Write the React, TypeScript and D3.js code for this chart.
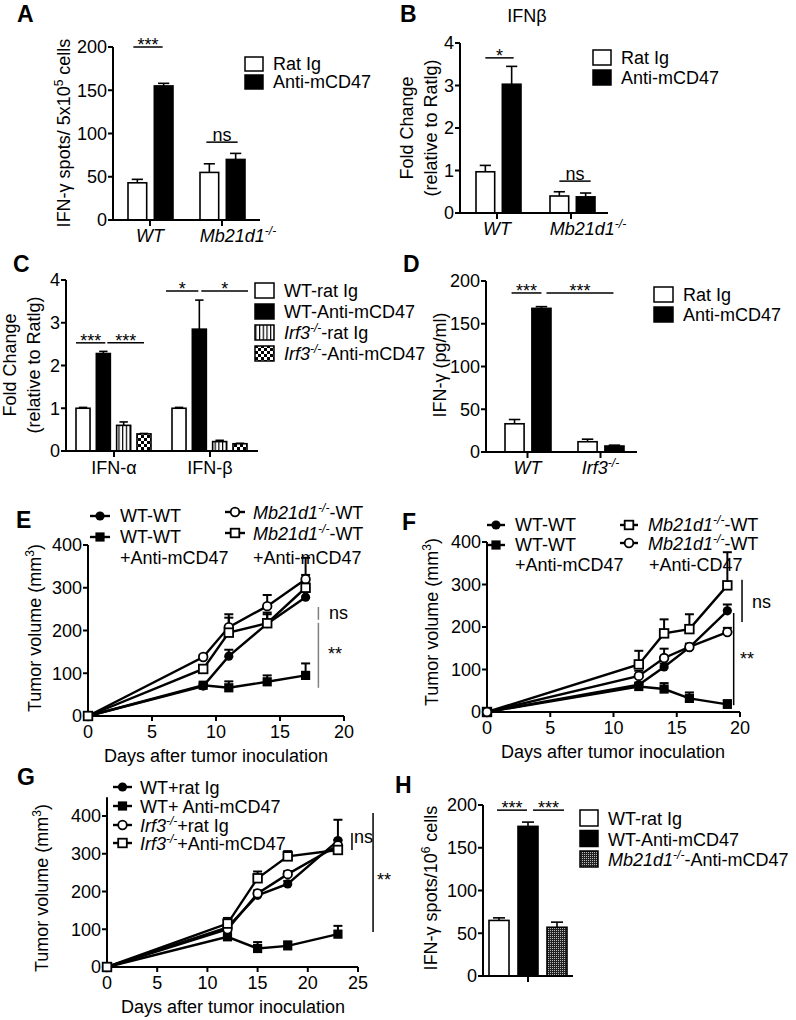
import React from "react";
import * as d3 from "d3";

const FONT = "'Liberation Sans', Arial, Helvetica, sans-serif";
const FS = 18;

// ===================== DATA =====================
// Panel A: IFN-γ spots / 5x10^5 cells
const aCategories = ["WT", "Mb21d1-/-"];
const aSeries = ["Rat Ig", "Anti-mCD47"];
const aRatIg = [43, 55];
const aRatIgSem = [4, 10];
const aAnti = [155, 70];
const aAntiSem = [3, 7];
const aTicks = [0, 50, 100, 150, 200];

// Panel B: IFNβ fold change
const bCategories = ["WT", "Mb21d1-/-"];
const bSeries = ["Rat Ig", "Anti-mCD47"];
const bRatIg = [0.97, 0.4];
const bRatIgSem = [0.15, 0.1];
const bAnti = [3.03, 0.38];
const bAntiSem = [0.42, 0.09];
const bTicks = [0, 1, 2, 3, 4];

// Panel C: fold change IFN-α / IFN-β
const cCategories = ["IFN-α", "IFN-β"];
const cSeries = ["WT-rat Ig", "WT-Anti-mCD47", "Irf3-/--rat Ig", "Irf3-/--Anti-mCD47"];
const cWtRat = [1.0, 1.0];
const cWtRatSem = [0.02, 0.02];
const cWtAnti = [2.28, 2.85];
const cWtAntiSem = [0.05, 0.68];
const cIrfRat = [0.6, 0.22];
const cIrfRatSem = [0.08, 0.03];
const cIrfAnti = [0.4, 0.17];
const cIrfAntiSem = [0.01, 0.01];
const cTicks = [0, 1, 2, 3, 4];

// Panel D: IFN-γ pg/ml
const dCategories = ["WT", "Irf3-/-"];
const dSeries = ["Rat Ig", "Anti-mCD47"];
const dRatIg = [33, 12];
const dRatIgSem = [5, 3];
const dAnti = [168, 7];
const dAntiSem = [2, 1];
const dTicks = [0, 50, 100, 150, 200];

// Panel H: IFN-γ spots / 10^6 cells
const hCategories = [""];
const hSeries = ["WT-rat Ig", "WT-Anti-mCD47", "Mb21d1-/--Anti-mCD47"];
const hValues = [65, 175, 57];
const hSem = [3, 5, 6];
const hTicks = [0, 50, 100, 150, 200];

// Panel E: tumor volume
const eDays = [0, 9, 11, 14, 17];
const eWtWt = [0, 70, 140, 216, 278];
const eWtWtSem = [0, 4, 15, 22, 12];
const eWtWtAnti = [0, 72, 66, 80, 95];
const eWtWtAntiSem = [0, 4, 15, 15, 28];
const eMbWt = [0, 138, 208, 257, 320];
const eMbWtSem = [0, 5, 30, 26, 50];
const eMbWtAnti = [0, 110, 195, 217, 300];
const eMbWtAntiSem = [0, 5, 35, 25, 30];
const eXTicks = [0, 5, 10, 15, 20];
const eYTicks = [0, 100, 200, 300, 400];

// Panel F
const fDays = [0, 12, 14, 16, 19];
const fWtWt = [0, 64, 106, 152, 238];
const fWtWtSem = [0, 5, 8, 6, 15];
const fWtWtAnti = [0, 60, 54, 32, 18];
const fWtWtAntiSem = [0, 6, 14, 14, 10];
const fMbWt = [0, 112, 185, 195, 298];
const fMbWtSem = [0, 32, 33, 35, 78];
const fMbWtAnti = [0, 85, 127, 153, 188];
const fMbWtAntiSem = [0, 12, 22, 8, 10];
const fXTicks = [0, 5, 10, 15, 20];
const fYTicks = [0, 100, 200, 300, 400];

// Panel G
const gDays = [0, 12, 15, 18, 23];
const gWtRat = [0, 105, 190, 220, 335];
const gWtRatSem = [0, 10, 10, 8, 55];
const gWtAnti = [0, 80, 49, 56, 87];
const gWtAntiSem = [0, 5, 17, 12, 22];
const gIrfRat = [0, 100, 195, 246, 322];
const gIrfRatSem = [0, 8, 8, 8, 15];
const gIrfAnti = [0, 115, 235, 293, 310];
const gIrfAntiSem = [0, 15, 18, 14, 10];
const gXTicks = [0, 5, 10, 15, 20, 25];
const gYTicks = [0, 100, 200, 300, 400];

// ===================== HELPERS =====================
function Rich({ text, italicAll = false }: { text: string; italicAll?: boolean }) {
  const idx = text.indexOf("-/-");
  if (idx < 0) return <tspan fontStyle={italicAll ? "italic" : "normal"}>{text}</tspan>;
  const gene = text.slice(0, idx);
  const rest = text.slice(idx + 3);
  return (
    <>
      <tspan fontStyle="italic">{gene}</tspan>
      <tspan fontStyle="italic" fontSize={12} dy={-7}>-/-</tspan>
      {rest ? <tspan dy={7} fontStyle={italicAll ? "italic" : "normal"}>{rest}</tspan> : null}
    </>
  );
}

type Sig = { a: [number, number]; b: [number, number]; v: number; label: string; d1: number; d2: number };

type BarProps = {
  y: d3.ScaleLinear<number, number>;
  yTicks: number[];
  yTop: number;
  axisLeft: number;
  axisRight: number;
  groups: d3.ScaleBand<string>;
  inner: d3.ScaleBand<string>;
  categories: string[];
  series: string[];
  values: number[][];
  sems: number[][];
  fills: string[];
  labelBaseline: number;
  labelDx: number[];
  italicLabels: boolean;
  sigs: Sig[];
};

function BarPanel(p: BarProps) {
  const y0 = p.y(0);
  const bw = p.inner.bandwidth();
  const cx = (g: number, s: number) => p.groups(p.categories[g])! + p.inner(p.series[s])! + bw / 2;
  return (
    <g>
      {p.series.map((s, si) =>
        p.categories.map((c, gi) => {
          const v = p.values[si][gi];
          const x = p.groups(c)! + p.inner(s)!;
          const c0 = x + bw / 2;
          const sem = p.sems[si][gi];
          const top = p.y(v + sem);
          return (
            <g key={si + "-" + gi}>
              {sem > 0 ? (
                <>
                  <line x1={c0} x2={c0} y1={p.y(v)} y2={top} stroke="black" strokeWidth={1.6} />
                  <line x1={c0 - bw * 0.3} x2={c0 + bw * 0.3} y1={top} y2={top} stroke="black" strokeWidth={1.6} />
                </>
              ) : null}
              <rect x={x} y={p.y(v)} width={bw} height={y0 - p.y(v)} fill={p.fills[si]} stroke="black" strokeWidth={1.6} />
            </g>
          );
        })
      )}
      {/* y axis */}
      <line x1={p.axisLeft} x2={p.axisLeft} y1={y0 + 1} y2={p.y(p.yTop)} stroke="black" strokeWidth={2} />
      {p.yTicks.map((t) => (
        <g key={"yt" + t}>
          <line x1={p.axisLeft - 5} x2={p.axisLeft} y1={p.y(t)} y2={p.y(t)} stroke="black" strokeWidth={2} />
          <text x={p.axisLeft - 6} y={p.y(t)} dy="0.35em" textAnchor="end" fontSize={FS}>
            {t}
          </text>
        </g>
      ))}
      {/* x axis */}
      <line x1={p.axisLeft} x2={p.axisRight} y1={y0} y2={y0} stroke="black" strokeWidth={2} />
      {p.categories.map((c, gi) => {
        const gx = p.groups(c)! + p.groups.bandwidth() / 2;
        return (
          <g key={"xt" + gi}>
            <line x1={gx} x2={gx} y1={y0} y2={y0 + 6} stroke="black" strokeWidth={2} />
            {c ? (
              <text x={gx + p.labelDx[gi]} y={p.labelBaseline} textAnchor="middle" fontSize={FS}>
                <Rich text={c} italicAll={p.italicLabels} />
              </text>
            ) : null}
          </g>
        );
      })}
      {p.sigs.map((s, i) => {
        const x1 = cx(s.a[0], s.a[1]) + s.d1;
        const x2 = cx(s.b[0], s.b[1]) + s.d2;
        const yy = p.y(s.v);
        const ns = s.label === "ns";
        return (
          <g key={"sig" + i}>
            <line x1={x1} x2={x2} y1={yy} y2={yy} stroke="black" strokeWidth={1.5} />
            <text x={(x1 + x2) / 2} y={ns ? yy - 1 : yy + 4} textAnchor="middle" fontSize={FS}>
              {s.label}
            </text>
          </g>
        );
      })}
    </g>
  );
}

function BarLegend({ x, y, step, w, h, labels, fills }: { x: number; y: number; step: number; w: number; h: number; labels: string[]; fills: string[] }) {
  return (
    <g>
      {labels.map((l, i) => (
        <g key={i}>
          <rect x={x} y={y + i * step} width={w} height={h} fill={fills[i]} stroke="black" strokeWidth={1.5} />
          <text x={x + w + 10} y={y + i * step + h - 1} fontSize={FS}>
            <Rich text={l} />
          </text>
        </g>
      ))}
    </g>
  );
}

function Marker({ type, cx, cy }: { type: string; cx: number; cy: number }) {
  if (type === "fc") return <circle cx={cx} cy={cy} r={4.6} fill="black" />;
  if (type === "oc") return <circle cx={cx} cy={cy} r={4.3} fill="white" stroke="black" strokeWidth={1.8} />;
  if (type === "fs") return <rect x={cx - 4.6} y={cy - 4.6} width={9.2} height={9.2} fill="black" />;
  return <rect x={cx - 4.3} y={cy - 4.3} width={8.6} height={8.6} fill="white" stroke="black" strokeWidth={1.8} />;
}

type LineSeries = { days: number[]; vals: number[]; sems: number[]; marker: string };
type VSig = { xv: number; y1: number; y2: number; label: string; tx: number; ty: number; color: string };

function LinePanel({ x, y, xTicks, yTicks, yTop, series, sigs }: {
  x: d3.ScaleLinear<number, number>;
  y: d3.ScaleLinear<number, number>;
  xTicks: number[];
  yTicks: number[];
  yTop: number;
  series: LineSeries[];
  sigs: VSig[];
}) {
  const x0 = x(0);
  const y0 = y(0);
  const xMax = x.domain()[1];
  const line = d3
    .line<[number, number]>()
    .x((d) => x(d[0]))
    .y((d) => y(d[1]));
  return (
    <g>
      {/* axes */}
      <line x1={x0} x2={x0} y1={y0 + 1} y2={y(yTop)} stroke="black" strokeWidth={2} />
      {yTicks.map((t) => (
        <g key={"yt" + t}>
          <line x1={x0 - 5} x2={x0} y1={y(t)} y2={y(t)} stroke="black" strokeWidth={2} />
          <text x={x0 - 6} y={y(t)} dy="0.35em" textAnchor="end" fontSize={FS}>
            {t}
          </text>
        </g>
      ))}
      <line x1={x0 - 1} x2={x(xMax)} y1={y0} y2={y0} stroke="black" strokeWidth={2} />
      {xTicks.map((t) => (
        <g key={"xt" + t}>
          <line x1={x(t)} x2={x(t)} y1={y0} y2={y0 + 5} stroke="black" strokeWidth={2} />
          <text x={x(t)} y={y0 + 22} textAnchor="middle" fontSize={FS}>
            {t}
          </text>
        </g>
      ))}
      {series.map((s, i) => (
        <path key={"l" + i} d={line(s.days.map((d, j) => [d, s.vals[j]] as [number, number])) || ""} fill="none" stroke="black" strokeWidth={2.4} />
      ))}
      {series.map((s, i) =>
        s.days.map((d, j) =>
          s.sems[j] > 0 ? (
            <g key={"e" + i + "-" + j}>
              <line x1={x(d)} x2={x(d)} y1={y(s.vals[j])} y2={y(s.vals[j] + s.sems[j])} stroke="black" strokeWidth={2} />
              <line x1={x(d) - 4.5} x2={x(d) + 4.5} y1={y(s.vals[j] + s.sems[j])} y2={y(s.vals[j] + s.sems[j])} stroke="black" strokeWidth={2} />
            </g>
          ) : null
        )
      )}
      {series.map((s, i) => s.days.map((d, j) => <Marker key={"m" + i + "-" + j} type={s.marker} cx={x(d)} cy={y(s.vals[j])} />))}
      {sigs.map((s, i) => (
        <g key={"vs" + i}>
          <line x1={x(s.xv)} x2={x(s.xv)} y1={y(s.y1)} y2={y(s.y2)} stroke={s.color} strokeWidth={1.5} />
          <text x={s.tx} y={s.ty} fontSize={FS}>
            {s.label}
          </text>
        </g>
      ))}
    </g>
  );
}

type LegItem = { m: string; x1: number; x2: number; y: number; lines: { t: string; x: number; y: number }[] };
function LineLegend({ items }: { items: LegItem[] }) {
  return (
    <g>
      {items.map((it, i) => (
        <g key={i}>
          <line x1={it.x1} x2={it.x2} y1={it.y} y2={it.y} stroke="black" strokeWidth={2.4} />
          <Marker type={it.m} cx={(it.x1 + it.x2) / 2} cy={it.y} />
          {it.lines.map((l, j) => (
            <text key={j} x={l.x} y={l.y} fontSize={FS}>
              <Rich text={l.t} />
            </text>
          ))}
        </g>
      ))}
    </g>
  );
}

function PanelLetter({ x, y, t }: { x: number; y: number; t: string }) {
  return (
    <text x={x} y={y} fontSize={23} fontWeight="bold">
      {t}
    </text>
  );
}

function VLabel({ x, y, children }: { x: number; y: number; children: React.ReactNode }) {
  return (
    <text transform={`translate(${x},${y}) rotate(-90)`} textAnchor="middle" fontSize={FS}>
      {children}
    </text>
  );
}

// ===================== APP =====================
export default function App() {
  const twoFills = ["white", "black"];

  // A
  const aY = d3.scaleLinear().domain([0, 200]).range([220, 47]);
  const aG = d3.scaleBand<string>().domain(aCategories).range([114, 258]);
  const aI = d3.scaleBand<string>().domain(aSeries).range([14, 59]).paddingInner(0.29);

  // B
  const bY = d3.scaleLinear().domain([0, 4]).range([213, 43]);
  const bG = d3.scaleBand<string>().domain(bCategories).range([460, 608]);
  const bI = d3.scaleBand<string>().domain(bSeries).range([16, 61]).paddingInner(0.29);

  // C
  const cY = d3.scaleLinear().domain([0, 4]).range([451, 280]);
  const cG = d3.scaleBand<string>().domain(cCategories).range([66, 258]);
  const cI = d3.scaleBand<string>().domain(cSeries).range([10, 85]).paddingInner(0.31);
  const cFills = ["white", "black", "url(#stripes)", "url(#checker)"];

  // D
  const dY = d3.scaleLinear().domain([0, 200]).range([452, 281]);
  const dG = d3.scaleBand<string>().domain(dCategories).range([491, 637]);
  const dI = d3.scaleBand<string>().domain(dSeries).range([14, 60]).paddingInner(0.29);

  // H
  const hY = d3.scaleLinear().domain([0, 200]).range([976, 805]);
  const hG = d3.scaleBand<string>().domain(hCategories).range([483, 573]);
  const hI = d3.scaleBand<string>().domain(hSeries).range([6, 84]).paddingInner(0.31);
  const hFills = ["white", "black", "url(#dots)"];

  // E, F, G
  const eX = d3.scaleLinear().domain([0, 20]).range([88, 344]);
  const eY = d3.scaleLinear().domain([0, 400]).range([716, 545]);
  const fX = d3.scaleLinear().domain([0, 20]).range([487, 740]);
  const fY = d3.scaleLinear().domain([0, 400]).range([712, 542]);
  const gX = d3.scaleLinear().domain([0, 25]).range([107, 358]);
  const gY = d3.scaleLinear().domain([0, 400]).range([967, 816]);

  return (
    <svg width={796} height={1020} style={{ position: "absolute", left: 0, top: 0 }} fontFamily={FONT}>
      <rect width={796} height={1020} fill="white" />
      <defs>
        <pattern id="stripes" patternUnits="userSpaceOnUse" width={3.7} height={4}>
          <rect width={3.7} height={4} fill="white" />
          <rect x={0} y={0} width={1.2} height={4} fill="black" />
        </pattern>
        <pattern id="checker" patternUnits="userSpaceOnUse" width={6} height={6}>
          <rect width={6} height={6} fill="white" />
          <rect x={0} y={0} width={3} height={3} fill="black" />
          <rect x={3} y={3} width={3} height={3} fill="black" />
        </pattern>
        <pattern id="dots" patternUnits="userSpaceOnUse" width={2} height={2}>
          <rect width={2} height={2} fill="#222" />
          <rect x={0} y={0} width={1} height={1} fill="#bbb" />
        </pattern>
      </defs>

      {/* ===== A ===== */}
      <PanelLetter x={17} y={22} t="A" />
      <VLabel x={70} y={133}>
        IFN-γ spots/ 5x10<tspan fontSize={12} dy={-7}>5</tspan>
        <tspan dy={7}> cells</tspan>
      </VLabel>
      <BarPanel
        y={aY}
        yTicks={aTicks}
        yTop={200}
        axisLeft={113}
        axisRight={260}
        groups={aG}
        inner={aI}
        categories={aCategories}
        series={aSeries}
        values={[aRatIg, aAnti]}
        sems={[aRatIgSem, aAntiSem]}
        fills={twoFills}
        labelBaseline={242}
        labelDx={[0, 16]}
        italicLabels={true}
        sigs={[
          { a: [0, 0], b: [0, 1], v: 200, label: "***", d1: -4, d2: -1 },
          { a: [1, 0], b: [1, 1], v: 90, label: "ns", d1: -3, d2: 2 },
        ]}
      />
      <BarLegend x={245} y={57} step={18} w={18} h={14} labels={aSeries} fills={twoFills} />

      {/* ===== B ===== */}
      <PanelLetter x={400} y={22} t="B" />
      <text x={527} y={22} textAnchor="middle" fontSize={FS}>
        IFNβ
      </text>
      <VLabel x={413} y={128}>Fold Change</VLabel>
      <VLabel x={437} y={128}>(relative to Ratlg)</VLabel>
      <BarPanel
        y={bY}
        yTicks={bTicks}
        yTop={4}
        axisLeft={460}
        axisRight={608}
        groups={bG}
        inner={bI}
        categories={bCategories}
        series={bSeries}
        values={[bRatIg, bAnti]}
        sems={[bRatIgSem, bAntiSem]}
        fills={twoFills}
        labelBaseline={235}
        labelDx={[0, 17]}
        italicLabels={true}
        sigs={[
          { a: [0, 0], b: [0, 1], v: 3.65, label: "*", d1: 0, d2: 2 },
          { a: [1, 0], b: [1, 1], v: 0.75, label: "ns", d1: 0, d2: 5 },
        ]}
      />
      <BarLegend x={593} y={50} step={20} w={18} h={15} labels={bSeries} fills={twoFills} />

      {/* ===== C ===== */}
      <PanelLetter x={13} y={272} t="C" />
      <VLabel x={16} y={365}>Fold Change</VLabel>
      <VLabel x={40} y={365}>(relative to Ratlg)</VLabel>
      <BarPanel
        y={cY}
        yTicks={cTicks}
        yTop={4}
        axisLeft={66}
        axisRight={258}
        groups={cG}
        inner={cI}
        categories={cCategories}
        series={cSeries}
        values={[cWtRat, cWtAnti, cIrfRat, cIrfAnti]}
        sems={[cWtRatSem, cWtAntiSem, cIrfRatSem, cIrfAntiSem]}
        fills={cFills}
        labelBaseline={474}
        labelDx={[0, 0]}
        italicLabels={false}
        sigs={[
          { a: [0, 0], b: [0, 1], v: 2.53, label: "***", d1: -7, d2: 2 },
          { a: [0, 1], b: [0, 3], v: 2.53, label: "***", d1: 4, d2: 0 },
          { a: [1, 0], b: [1, 1], v: 3.74, label: "*", d1: -13, d2: -1 },
          { a: [1, 1], b: [1, 3], v: 3.74, label: "*", d1: 2, d2: 8 },
        ]}
      />
      <BarLegend x={255} y={283} step={21} w={19} h={15} labels={cSeries} fills={cFills} />

      {/* ===== D ===== */}
      <PanelLetter x={403} y={272} t="D" />
      <VLabel x={446} y={365}>IFN-γ (pg/ml)</VLabel>
      <BarPanel
        y={dY}
        yTicks={dTicks}
        yTop={200}
        axisLeft={486}
        axisRight={637}
        groups={dG}
        inner={dI}
        categories={dCategories}
        series={dSeries}
        values={[dRatIg, dAnti]}
        sems={[dRatIgSem, dAntiSem]}
        fills={twoFills}
        labelBaseline={474}
        labelDx={[0, 0]}
        italicLabels={true}
        sigs={[
          { a: [0, 0], b: [0, 1], v: 186, label: "***", d1: -3, d2: 0 },
          { a: [0, 1], b: [1, 1], v: 186, label: "***", d1: 5, d2: -1 },
        ]}
      />
      <BarLegend x={654} y={287} step={20} w={19} h={15} labels={dSeries} fills={twoFills} />

      {/* ===== E ===== */}
      <PanelLetter x={16} y={528} t="E" />
      <VLabel x={41} y={628}>
        Tumor volume (mm<tspan fontSize={12} dy={-7}>3</tspan>
        <tspan dy={7}>)</tspan>
      </VLabel>
      <LinePanel
        x={eX}
        y={eY}
        xTicks={eXTicks}
        yTicks={eYTicks}
        yTop={400}
        series={[
          { days: eDays, vals: eWtWt, sems: eWtWtSem, marker: "fc" },
          { days: eDays, vals: eWtWtAnti, sems: eWtWtAntiSem, marker: "fs" },
          { days: eDays, vals: eMbWt, sems: eMbWtSem, marker: "oc" },
          { days: eDays, vals: eMbWtAnti, sems: eMbWtAntiSem, marker: "os" },
        ]}
        sigs={[
          { xv: 18, y1: 255, y2: 225, label: "ns", tx: 329, ty: 619, color: "#808080" },
          { xv: 18, y1: 218, y2: 66, label: "**", tx: 328, ty: 660, color: "#808080" },
        ]}
      />
      <text x={216} y={762} textAnchor="middle" fontSize={FS}>
        Days after tumor inoculation
      </text>
      <LineLegend
        items={[
          { m: "fc", x1: 90, x2: 110, y: 516, lines: [{ t: "WT-WT", x: 120, y: 522 }] },
          { m: "fs", x1: 90, x2: 110, y: 537, lines: [{ t: "WT-WT", x: 120, y: 543 }, { t: "+Anti-mCD47", x: 120, y: 564 }] },
          { m: "oc", x1: 225, x2: 245, y: 512, lines: [{ t: "Mb21d1-/--WT", x: 253, y: 519 }] },
          { m: "os", x1: 225, x2: 245, y: 533, lines: [{ t: "Mb21d1-/--WT", x: 253, y: 540 }, { t: "+Anti-mCD47", x: 253, y: 564 }] },
        ]}
      />

      {/* ===== F ===== */}
      <PanelLetter x={402} y={530} t="F" />
      <VLabel x={438} y={622}>
        Tumor volume (mm<tspan fontSize={12} dy={-7}>3</tspan>
        <tspan dy={7}>)</tspan>
      </VLabel>
      <LinePanel
        x={fX}
        y={fY}
        xTicks={fXTicks}
        yTicks={fYTicks}
        yTop={400}
        series={[
          { days: fDays, vals: fWtWt, sems: fWtWtSem, marker: "fc" },
          { days: fDays, vals: fWtWtAnti, sems: fWtWtAntiSem, marker: "fs" },
          { days: fDays, vals: fMbWt, sems: fMbWtSem, marker: "os" },
          { days: fDays, vals: fMbWtAnti, sems: fMbWtAntiSem, marker: "oc" },
        ]}
        sigs={[
          { xv: 20.16, y1: 311, y2: 212, label: "ns", tx: 752, ty: 608, color: "black" },
          { xv: 19.5, y1: 233, y2: 16, label: "**", tx: 740, ty: 665, color: "black" },
        ]}
      />
      <text x={613} y={758} textAnchor="middle" fontSize={FS}>
        Days after tumor inoculation
      </text>
      <LineLegend
        items={[
          { m: "fc", x1: 487, x2: 505, y: 525, lines: [{ t: "WT-WT", x: 515, y: 531 }] },
          { m: "fs", x1: 487, x2: 505, y: 545, lines: [{ t: "WT-WT", x: 515, y: 551 }, { t: "+Anti-mCD47", x: 515, y: 571 }] },
          { m: "os", x1: 620, x2: 638, y: 525, lines: [{ t: "Mb21d1-/--WT", x: 648, y: 531 }] },
          { m: "oc", x1: 620, x2: 638, y: 543, lines: [{ t: "Mb21d1-/--WT", x: 648, y: 550 }, { t: "+Anti-CD47", x: 649, y: 571 }] },
        ]}
      />

      {/* ===== G ===== */}
      <PanelLetter x={17} y={785} t="G" />
      <VLabel x={48} y={888}>
        Tumor volume (mm<tspan fontSize={12} dy={-7}>3</tspan>
        <tspan dy={7}>)</tspan>
      </VLabel>
      <LinePanel
        x={gX}
        y={gY}
        xTicks={gXTicks}
        yTicks={gYTicks}
        yTop={450}
        series={[
          { days: gDays, vals: gWtRat, sems: gWtRatSem, marker: "fc" },
          { days: gDays, vals: gWtAnti, sems: gWtAntiSem, marker: "fs" },
          { days: gDays, vals: gIrfRat, sems: gIrfRatSem, marker: "oc" },
          { days: gDays, vals: gIrfAnti, sems: gIrfAntiSem, marker: "os" },
        ]}
        sigs={[
          { xv: 24.4, y1: 355, y2: 310, label: "ns", tx: 354, ty: 843, color: "black" },
          { xv: 26.5, y1: 408, y2: 93, label: "**", tx: 377, ty: 886, color: "black" },
        ]}
      />
      <text x={233} y={1013} textAnchor="middle" fontSize={FS}>
        Days after tumor inoculation
      </text>
      <LineLegend
        items={[
          { m: "fc", x1: 113, x2: 132, y: 787, lines: [{ t: "WT+rat Ig", x: 140, y: 794 }] },
          { m: "fs", x1: 113, x2: 132, y: 806, lines: [{ t: "WT+ Anti-mCD47", x: 140, y: 813 }] },
          { m: "oc", x1: 113, x2: 132, y: 825, lines: [{ t: "Irf3-/-+rat Ig", x: 140, y: 832 }] },
          { m: "os", x1: 113, x2: 132, y: 843, lines: [{ t: "Irf3-/-+Anti-mCD47", x: 140, y: 850 }] },
        ]}
      />

      {/* ===== H ===== */}
      <PanelLetter x={395} y={793} t="H" />
      <VLabel x={437} y={888}>
        IFN-γ spots/10<tspan fontSize={12} dy={-7}>6</tspan>
        <tspan dy={7}> cells</tspan>
      </VLabel>
      <BarPanel
        y={hY}
        yTicks={hTicks}
        yTop={200}
        axisLeft={483}
        axisRight={573}
        groups={hG}
        inner={hI}
        categories={hCategories}
        series={hSeries}
        values={hValues.map((v) => [v])}
        sems={hSem.map((v) => [v])}
        fills={hFills}
        labelBaseline={1000}
        labelDx={[0]}
        italicLabels={false}
        sigs={[
          { a: [0, 0], b: [0, 1], v: 194, label: "***", d1: -2, d2: -1 },
          { a: [0, 1], b: [0, 2], v: 194, label: "***", d1: 5, d2: 7 },
        ]}
      />
      <BarLegend x={580} y={810} step={20.5} w={18} h={16} labels={hSeries} fills={hFills} />
    </svg>
  );
}
